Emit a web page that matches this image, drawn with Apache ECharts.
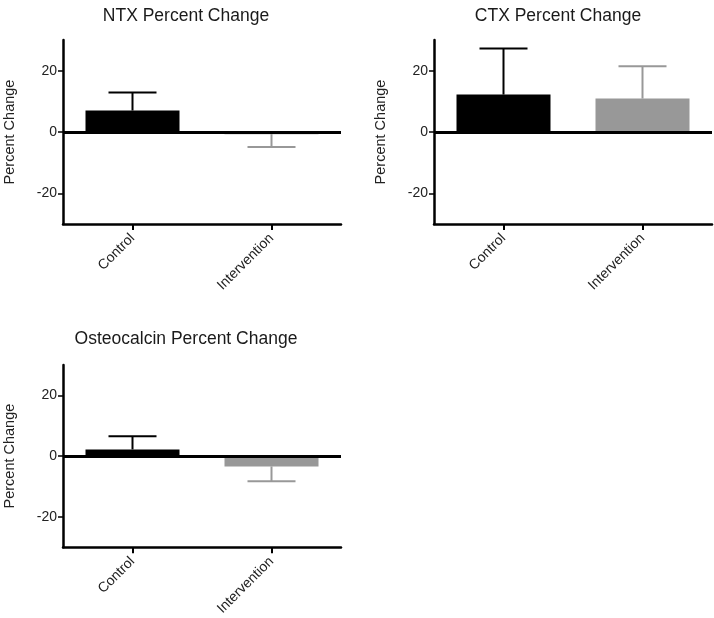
<!DOCTYPE html>
<html>
<head>
<meta charset="utf-8">
<script src="https://cdn.jsdelivr.net/npm/echarts@6/dist/echarts.min.js"></script>
<style>
html,body{margin:0;padding:0;background:#fff;}
#main{width:714px;height:618px;}
</style>
</head>
<body>
<div id="main"></div>
<script>
// ---- data ----
var categories = ['Control', 'Intervention'];
var titles = ['NTX Percent Change', 'CTX Percent Change', 'Osteocalcin Percent Change'];
var yTicks = [-20, 0, 20];
var ntxMean = [7.0, -0.7];
var ntxErr = [5.9, 4.2];
var ctxMean = [12.2, 10.9];
var ctxErr = [15.0, 10.5];
var ostMean = [2.2, -3.4];
var ostErr = [4.3, 4.9];
var barColors = ['#000000', '#989898'];

var panels = [
  {mean: ntxMean, err: ntxErr},
  {mean: ctxMean, err: ctxErr},
  {mean: ostMean, err: ostErr}
];

var FONT = 'Liberation Sans, Arial, Helvetica, sans-serif';
var grids = [
  {left: 63, top: 40, width: 278, height: 184},
  {left: 434, top: 40, width: 278, height: 184},
  {left: 63, top: 365, width: 278, height: 183}
];
var titlePos = [
  {left: 181, top: 2},
  {left: 553, top: 2},
  {left: 181, top: 325}
];

var option = {
  animation: false,
  backgroundColor: '#fff',
  title: titles.map(function (t, i) {
    return {
      text: t, left: titlePos[i].left, top: titlePos[i].top, textAlign: 'center',
      textStyle: {fontFamily: FONT, fontSize: 17.5, fontWeight: 'normal', color: '#1a1a1a'}
    };
  }),
  grid: grids.map(function (g) { return Object.assign({containLabel: false}, g); }),
  xAxis: grids.map(function (g, i) {
    return {
      type: 'category', gridIndex: i, data: categories,
      axisLine: {onZero: false, lineStyle: {color: '#000', width: 2.5}},
      axisTick: {show: true, length: 6, lineStyle: {color: '#000', width: 2}, alignWithLabel: true},
      axisLabel: {rotate: 45, fontFamily: FONT, fontSize: 14, color: '#222', margin: 12},
      splitLine: {show: false}
    };
  }),
  yAxis: grids.map(function (g, i) {
    return {
      type: 'value', gridIndex: i, min: -30, max: 30,
      name: 'Percent Change', nameLocation: 'middle', nameGap: 46,
      nameTextStyle: {fontFamily: FONT, fontSize: 14.5, color: '#222'},
      axisLine: {show: true, lineStyle: {color: '#000', width: 2.5}},
      axisTick: {show: true, length: 5, lineStyle: {color: '#000', width: 1.5}, customValues: yTicks},
      axisLabel: {fontFamily: FONT, fontSize: 14, color: '#222', margin: 6, customValues: yTicks},
      splitLine: {show: false}
    };
  }),
  series: []
};

panels.forEach(function (p, i) {
  option.series.push({
    type: 'bar', xAxisIndex: i, yAxisIndex: i, barWidth: 94, z: 2,
    data: p.mean.map(function (v, k) { return {value: v, itemStyle: {color: barColors[k]}}; }),
    markLine: {
      silent: true, symbol: ['none', 'none'], label: {show: false},
      lineStyle: {color: '#000', width: 3, type: 'solid'},
      data: [{yAxis: 0}], z: 5
    }
  });
  option.series.push({
    type: 'custom', xAxisIndex: i, yAxisIndex: i, z: 3,
    data: p.mean.map(function (v, k) { return [k, v, v + (v >= 0 ? 1 : -1) * p.err[k]]; }),
    renderItem: function (params, api) {
      var k = api.value(0);
      var a = api.coord([k, api.value(1)]);
      var b = api.coord([k, api.value(2)]);
      var half = 24;
      var col = barColors[k];
      return {
        type: 'group',
        children: [
          {type: 'line', shape: {x1: a[0], y1: a[1], x2: b[0], y2: b[1]}, style: {stroke: col, lineWidth: 2}},
          {type: 'line', shape: {x1: b[0] - half, y1: b[1], x2: b[0] + half, y2: b[1]}, style: {stroke: col, lineWidth: 2}}
        ]
      };
    }
  });
});

var chart = echarts.init(document.getElementById('main'), null, {renderer: 'canvas'});
chart.setOption(option);
</script>
</body>
</html>
